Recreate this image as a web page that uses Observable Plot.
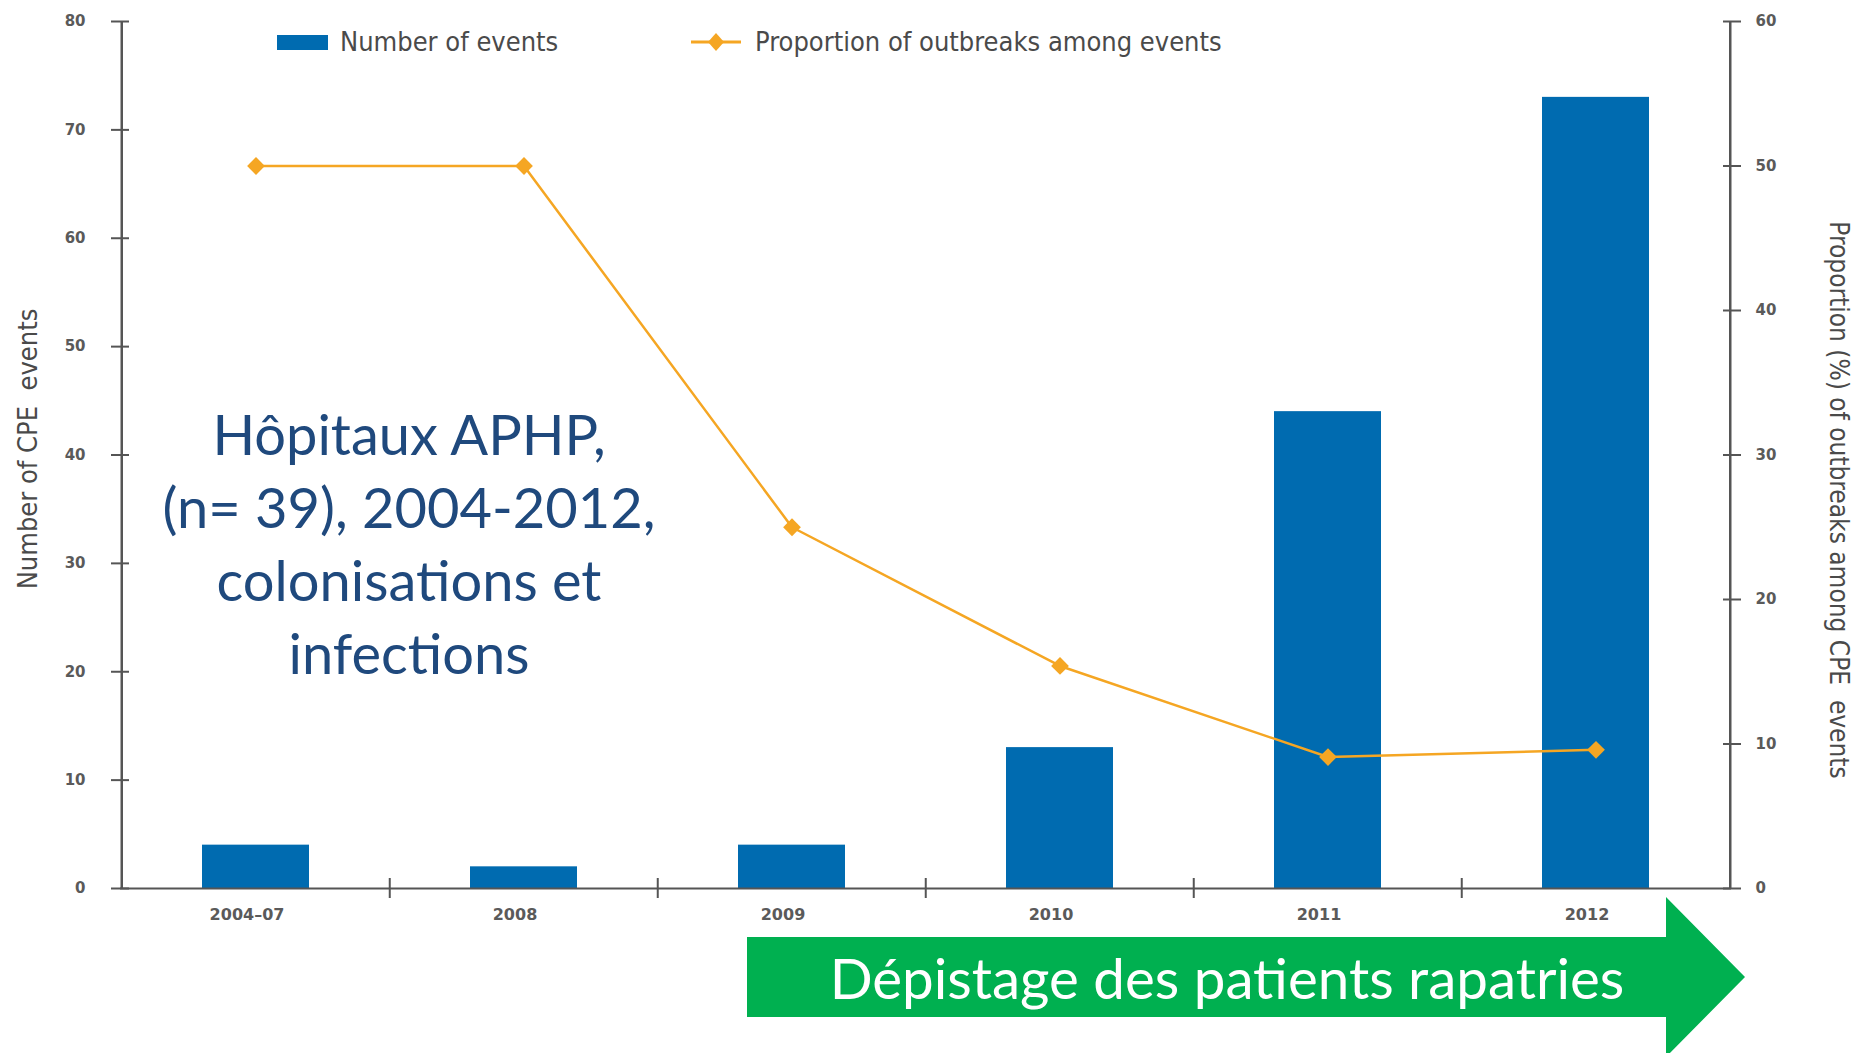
<!DOCTYPE html>
<html>
<head>
<meta charset="utf-8">
<script src="https://cdn.jsdelivr.net/npm/d3@7"></script>
<script src="https://cdn.jsdelivr.net/npm/@observablehq/plot@0.6"></script>
<style>
  html, body { margin: 0; padding: 0; background: #fff; }
  #wrap { position: relative; width: 1859px; height: 1053px; overflow: hidden; }
  #chart svg { display: block; }
  .legend { position: absolute; top: 26px; font-family: "DejaVu Sans Condensed", "DejaVu Sans"; font-stretch: condensed; font-size: 27px; color: #4a4a4a; display: flex; align-items: center; }
  .annot { position: absolute; left: 109px; width: 600px; top: 397px; text-align: center; font-family: Lato, "Open Sans", sans-serif; font-size: 56px; line-height: 73px; color: #1f497d; }
  #arrow { position: absolute; left: 0; top: 0; }
</style>
</head>
<body>
<div id="wrap">
  <div id="chart"></div>
  <div class="legend" style="left:277px;">
    <svg width="52" height="16" style="margin-right:11px"><rect x="0" y="1" width="51" height="15" fill="#006bb0"/></svg>
    <span id="leg1"></span>
  </div>
  <div class="legend" style="left:691px;">
    <svg width="52" height="22" style="margin-right:12px"><line x1="0" y1="11" x2="50" y2="11" stroke="#f5a623" stroke-width="3"/><path d="M25,2 L33,11 L25,20 L17,11 Z" fill="#f5a623"/></svg>
    <span id="leg2"></span>
  </div>
  <div class="annot" id="annot"></div>
  <svg id="arrow" width="1859" height="1053">
    <polygon points="747,937 1666,937 1666,897 1745,977 1666,1057 1666,1017 747,1017" fill="#00b050"/>
    <text id="arrowText" x="1227" y="977" text-anchor="middle" dominant-baseline="central" fill="#fff" font-family="Lato, 'Open Sans', sans-serif" font-size="56.5"></text>
  </svg>
</div>
<script>
// ---- data ----
const categories = ["2004–07", "2008", "2009", "2010", "2011", "2012"];
const events = [4, 2, 4, 13, 44, 73];
const outbreakPct = [50, 50, 25, 15.4, 9.1, 9.6];
const leftTicks = [0, 10, 20, 30, 40, 50, 60, 70, 80];
const rightTicks = [0, 10, 20, 30, 40, 50, 60];
const legendLabels = ["Number of events", "Proportion of outbreaks among events"];
const leftTitle = "Number of CPE  events";
const rightTitle = "Proportion (%) of outbreaks among CPE  events";
const annotationLines = ["Hôpitaux APHP,", "(n= 39), 2004-2012,", "colonisations et", "infections"];
const arrowLabel = "Dépistage des patients rapatries";

const leftMax = 80, rightMax = 60;
const toLeft = v => v * leftMax / rightMax;

const rows = categories.map((c, i) => ({cat: c, events: events[i], pct: outbreakPct[i]}));

const W = 1859, H = 1053;
const mL = 120, mR = 128, mT = 21, mB = 165;
const half = (W - mL - mR) / categories.length / 2;

const blue = "#006bb0", orange = "#f5a623", axisCol = "#555";
const tickFont = "DejaVu Sans";

const plot = Plot.plot({
  width: W, height: H,
  marginLeft: mL, marginRight: mR, marginTop: mT, marginBottom: mB,
  style: {fontFamily: tickFont, background: "white", overflow: "visible"},
  x: {type: "band", domain: categories, paddingInner: 0.6, paddingOuter: 0.3, label: null},
  y: {domain: [0, leftMax], label: null},
  marks: [
    Plot.barY(rows, {x: "cat", y: "events", fill: blue}),
    // x axis line
    Plot.ruleY([0], {stroke: axisCol, strokeWidth: 2}),
    // left & right axis lines
    Plot.ruleX([categories[0]], {dx: -half, y1: 0, y2: leftMax, stroke: axisCol, strokeWidth: 2.5}),
    Plot.ruleX([categories[categories.length - 1]], {dx: half, y1: 0, y2: leftMax, stroke: axisCol, strokeWidth: 2.5}),
    // y tick marks (crossing the axis)
    Plot.axisY(leftTicks, {anchor: "left", tickSize: 18, dx: 9, fill: "none", stroke: axisCol, strokeWidth: 2, label: null}),
    Plot.axisY(rightTicks.map(toLeft), {anchor: "right", tickSize: 18, dx: -9, fill: "none", stroke: axisCol, strokeWidth: 2, label: null}),
    // y tick labels
    Plot.axisY(leftTicks, {anchor: "left", tickSize: 0, tickPadding: 35, fontSize: 15, fontWeight: "bold", fill: "#5a5a5a", label: null}),
    Plot.axisY(rightTicks.map(toLeft), {anchor: "right", tickSize: 0, tickPadding: 24, fontSize: 15, fontWeight: "bold", fill: "#5a5a5a", label: null,
      tickFormat: d => String(Math.round(d * rightMax / leftMax))}),
    // x boundary ticks
    Plot.axisX(categories.slice(1), {anchor: "bottom", tickSize: 20, dx: -half, dy: -10, fill: "none", stroke: axisCol, strokeWidth: 2, label: null}),
    // x labels
    Plot.axisX(categories, {anchor: "bottom", tickSize: 0, tickPadding: 20, dx: -9, fontSize: 16, fontWeight: "bold", fill: "#5a5a5a", label: null}),
    // axis titles
    Plot.text([leftTitle], {frameAnchor: "left", textAnchor: "middle", dx: -92, dy: -6, rotate: -90, fontSize: 27, fill: "#4a4a4a", fontFamily: "DejaVu Sans Condensed"}),
    Plot.text([rightTitle], {frameAnchor: "right", textAnchor: "middle", dx: 107, dy: 45, rotate: 90, fontSize: 26, fill: "#4a4a4a", fontFamily: "DejaVu Sans Condensed"}),
    // proportion line
    Plot.line(rows, {x: "cat", y: d => toLeft(d.pct), stroke: orange, strokeWidth: 2.5}),
    Plot.dot(rows, {x: "cat", y: d => toLeft(d.pct), symbol: "diamond2", r: 8, fill: orange, stroke: "none"})
  ]
});
document.getElementById("chart").appendChild(plot);
document.getElementById("leg1").textContent = legendLabels[0];
document.getElementById("leg2").textContent = legendLabels[1];
document.getElementById("annot").innerHTML = annotationLines.map(s => s.replace(/&/g, "&amp;").replace(/</g, "&lt;")).join("<br>");
document.getElementById("arrowText").textContent = arrowLabel;
</script>
</body>
</html>
